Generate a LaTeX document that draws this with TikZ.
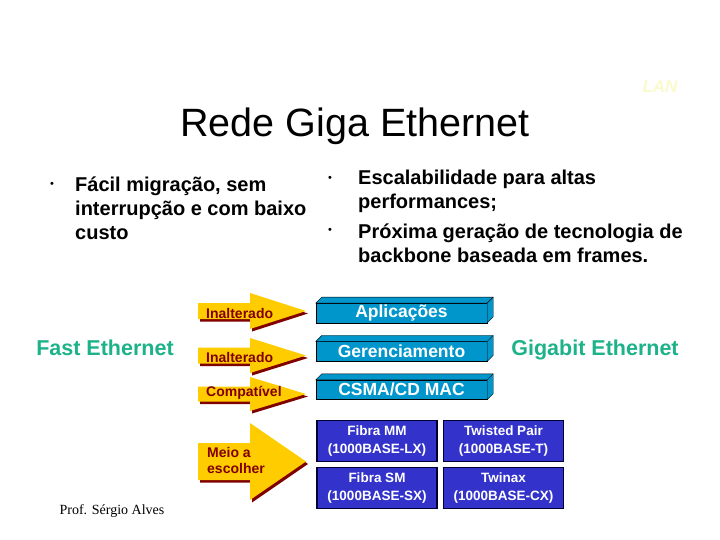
\documentclass[tikz,border=0pt]{standalone}
\usepackage{fontspec}
\setmainfont{Liberation Sans}
\newfontfamily\profserif{Liberation Serif}
\usetikzlibrary{positioning}

\definecolor{arrowyellow}{RGB}{255,204,0}
\definecolor{darkred}{RGB}{128,0,0}
\definecolor{layerblue}{RGB}{0,150,204}
\definecolor{mediablue}{RGB}{51,51,204}
\definecolor{navyedge}{RGB}{0,0,51}
\definecolor{ethgreen}{RGB}{30,178,138}
\definecolor{lanyellow}{RGB}{250,250,205}

\begin{document}
\begin{tikzpicture}[x=1pt, y=-1pt,
  bulletdot/.style={inner sep=0, font=\fontsize{11}{11}\selectfont},
  bullettext/.style={inner sep=0, anchor=west, align=left,
    font=\fontsize{20}{24}\selectfont\bfseries},
  arrowlabel/.style={inner sep=0, anchor=west, align=left, text=darkred,
    font=\fontsize{14}{16}\selectfont\bfseries},
  layer/.style={draw=black, fill=layerblue, text=white, inner sep=0,
    minimum width=171pt, minimum height=19.5pt,
    font=\fontsize{17.5}{17.5}\selectfont\bfseries},
  media/.style={draw=navyedge, line width=1.5pt, fill=mediablue, text=white,
    inner sep=0, minimum width=120pt, minimum height=41pt, align=center,
    font=\fontsize{13.5}{18.5}\selectfont\bfseries},
  ethname/.style={text=ethgreen, font=\fontsize{21.5}{21.5}\selectfont\bfseries}
]
\fill[white] (0,0) rectangle (720,540);
\useasboundingbox (0,0) rectangle (720,540);

\node[text=lanyellow, font=\fontsize{17}{17}\selectfont\bfseries\itshape] (lan) at (660,87) {LAN};
\node[font=\fontsize{39.5}{39.5}\selectfont] (title) at (355,126) {Rede Giga Ethernet};

% bullets
\node[bulletdot] (dotl) at (52,185) {\textbullet};
\node[bullettext] (migracao) at (75,208) {Fácil migração, sem\\interrupção e com baixo\\custo};
\node[bulletdot] (dotr1) at (330,179) {\textbullet};
\node[bullettext] (escala) at (358,191) {Escalabilidade para altas\\performances;};
\node[bulletdot] (dotr2) at (330,231) {\textbullet};
\node[bullettext] (proxima) at (358,243) {Próxima geração de tecnologia de\\backbone baseada em frames.};

% yellow arrows with dark red shadow
\foreach \c/\b/\h in {311/8/18, 355.5/8/17.5, 394/7.5/17, 461.5/18.5/38.5} {
  \fill[darkred, shift={(2,2.5)}] (198,\c-\b) -- (250,\c-\b) -- (250,\c-\h)
    -- (306,\c) -- (250,\c+\h) -- (250,\c+\b) -- (198,\c+\b) -- cycle;
  \fill[arrowyellow] (198,\c-\b) -- (250,\c-\b) -- (250,\c-\h)
    -- (306,\c) -- (250,\c+\h) -- (250,\c+\b) -- (198,\c+\b) -- cycle;
}
\node[arrowlabel] (inalt1) at (206,313) {Inalterado};
\node[arrowlabel] (inalt2) at (206,357) {Inalterado};
\node[arrowlabel] (compat) at (206,393) {Compatível};
\node[arrowlabel] (meio) at (207,460) {Meio a\\escolher};

% layers
\node[layer] (apl) at (401.5,313) {Aplicações};
\node[layer, below=18.5pt of apl] (ger) {Gerenciamento};
\node[layer, below=18.5pt of ger] (mac) {CSMA/CD MAC};
\foreach \n in {apl,ger,mac} {
  \filldraw[draw=black, fill=layerblue] (\n.north west) -- ++(6,-6)
    -| ([shift={(6,-6)}]\n.south east) -- (\n.south east) -- (\n.north east) -- cycle;
  \draw (\n.north east) -- ++(6,-6);
}

% media
\node[media] (fibramm) at (377,441) {Fibra MM\\(1000BASE-LX)};
\node[media, right=5pt of fibramm] (twisted) {Twisted Pair\\(1000BASE-T)};
\node[media, below=4.5pt of fibramm] (fibrasm) {Fibra SM\\(1000BASE-SX)};
\node[media, below=4.5pt of twisted] (twinax) {Twinax\\(1000BASE-CX)};

\node[ethname] (fast) at (105,348) {Fast Ethernet};
\node[ethname] (giga) at (595,350) {Gigabit Ethernet};

\node[font=\profserif\fontsize{14}{14}\selectfont] (prof) at (112,511) {Prof. Sérgio Alves};
\end{tikzpicture}
\end{document}
